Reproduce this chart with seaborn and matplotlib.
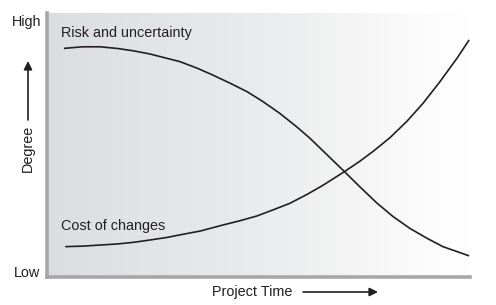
import numpy as np
import pandas as pd
import matplotlib
matplotlib.use("Agg")
import matplotlib.pyplot as plt
import seaborn as sns
from matplotlib.colors import LinearSegmentedColormap

sns.set_theme(style="white")
plt.rcParams['font.family'] = ['Liberation Sans', 'DejaVu Sans']

# Data (x: project time 0-100, y: degree 0-100)
risk_x = [4.0, 8.5, 12.5, 16.5, 20.3, 24.3, 28.4, 31.4, 35.5, 39.2, 43.3, 47.3, 51.1,
          55.1, 59.1, 62.2, 66.2, 70.4, 74.0, 78.0, 81.8, 85.8, 89.8, 93.6, 99.8]
risk_y = [86.6, 87.2, 87.2, 86.6, 85.7, 84.5, 82.8, 81.6, 79.1, 76.5, 73.4, 70.2, 66.4,
          61.9, 56.8, 52.5, 46.3, 39.8, 34.1, 28.0, 22.9, 18.4, 14.7, 11.5, 8.0]
cost_x = [4.3, 8.5, 12.5, 16.5, 20.3, 24.3, 28.4, 32.2, 36.2, 41.6, 45.6, 49.6, 53.4,
          57.4, 61.5, 65.2, 70.4, 74.0, 77.1, 81.1, 85.1, 88.9, 92.9, 96.9, 99.8]
cost_y = [11.5, 11.7, 12.1, 12.5, 13.1, 14.0, 15.0, 16.2, 17.4, 19.7, 21.3, 23.1, 25.4,
          27.9, 31.3, 34.7, 40.0, 43.9, 47.6, 52.8, 59.0, 65.8, 74.0, 82.8, 89.8]
risk_label = "Risk and uncertainty"
cost_label = "Cost of changes"

df = pd.concat([
    pd.DataFrame({"x": risk_x, "y": risk_y, "s": risk_label}),
    pd.DataFrame({"x": cost_x, "y": cost_y, "s": cost_label}),
])

fig = plt.figure(figsize=(4.96, 3.05), dpi=100)
ax = fig.add_axes([47/496, 28/305, 423/496, 264/305])

# gradient background
cmap = LinearSegmentedColormap.from_list(
    "g", [(0.0, "#dcdde0"), (0.5, "#eaebec"), (0.93, "#fdfdfd"), (1.0, "#ffffff")])
grad = np.linspace(0, 1, 256).reshape(1, -1)
ax.imshow(grad, extent=[0, 100, 0, 100], aspect='auto', cmap=cmap, zorder=0)

sns.lineplot(data=df, x="x", y="y", hue="s", palette=["#231f20", "#231f20"],
             linewidth=1.2, legend=False, ax=ax, sort=False, zorder=3,
             solid_joinstyle="round", solid_capstyle="butt")
ax.set_xlim(0, 100)
ax.set_ylim(0, 100)
ax.set_xticks([])
ax.set_yticks([])
ax.set_xlabel("")
ax.set_ylabel("")
for s in ["top", "right"]:
    ax.spines[s].set_visible(False)
for s in ["left", "bottom"]:
    ax.spines[s].set_color("#a7a7a9")
    ax.spines[s].set_linewidth(2.6)

fs = 10.4
ax.text(3.3, 92.5, risk_label, fontsize=fs, color="#231f20", va="center", ha="left")
ax.text(3.3, 19.5, cost_label, fontsize=fs, color="#231f20", va="center", ha="left")

fig.text(27/496, 1 - 22/305, "High", fontsize=fs, ha="center", va="center", color="#231f20")
fig.text(27/496, 1 - 273/305, "Low", fontsize=fs, ha="center", va="center", color="#231f20")
fig.text(28/496, 1 - 148/305, "Degree", fontsize=fs, rotation=90, ha="center", va="center", color="#231f20")
fig.text(252/496, 1 - 292/305, "Project Time", fontsize=fs, ha="center", va="center", color="#231f20")

fig.add_artist(matplotlib.patches.FancyArrowPatch(
    (28/496, 1 - 120/305), (28/496, 1 - 61/305), transform=fig.transFigure,
    arrowstyle="-|>,head_length=5,head_width=2.5", color="#231f20", lw=1.2, shrinkA=0, shrinkB=0))
fig.add_artist(matplotlib.patches.FancyArrowPatch(
    (303/496, 1 - 292/305), (378/496, 1 - 292/305), transform=fig.transFigure,
    arrowstyle="-|>,head_length=5,head_width=2.5", color="#231f20", lw=1.2, shrinkA=0, shrinkB=0))

fig.savefig("out.png", dpi=100)
